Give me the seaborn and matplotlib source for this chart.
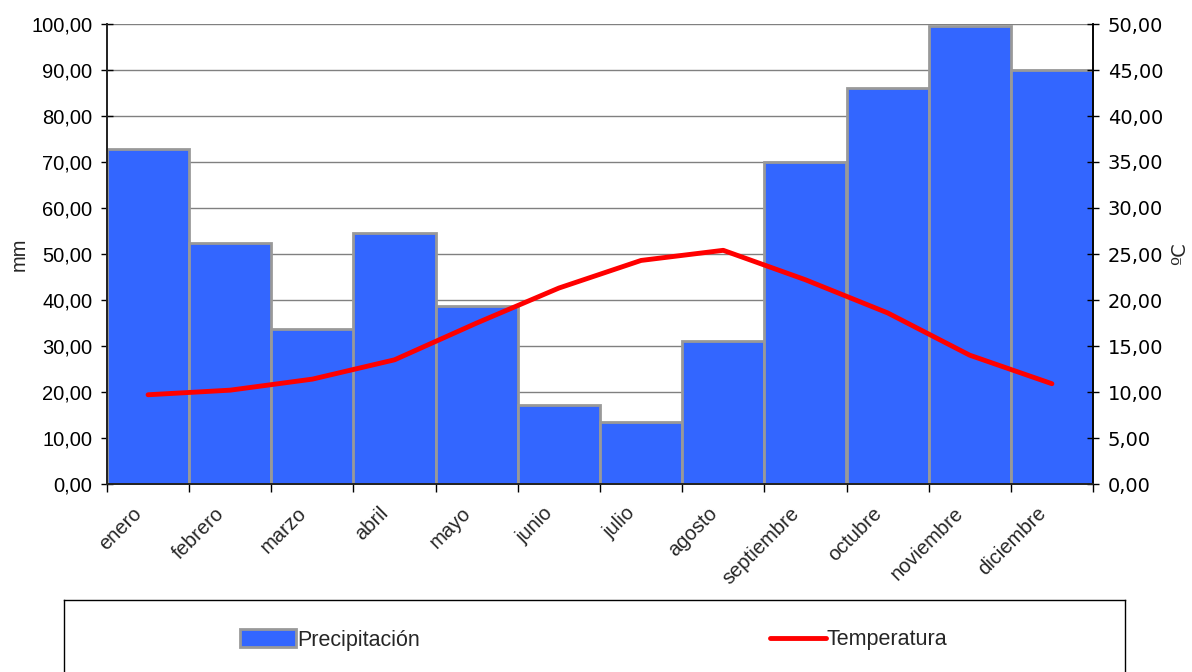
import numpy as np
import pandas as pd
import matplotlib
matplotlib.use("Agg")
import matplotlib.pyplot as plt
import matplotlib.transforms as mtransforms
import seaborn as sns
from matplotlib.ticker import FuncFormatter, MultipleLocator, FixedLocator
from matplotlib.patches import Patch
from matplotlib.lines import Line2D

meses = ["enero", "febrero", "marzo", "abril", "mayo", "junio", "julio",
         "agosto", "septiembre", "octubre", "noviembre", "diciembre"]
precipitacion = [72.8, 52.4, 33.7, 54.6, 38.7, 17.2, 13.5, 31.1, 70.0, 86.1, 99.6, 90.0]
temperatura = [9.7, 10.2, 11.4, 13.5, 17.5, 21.3, 24.3, 25.4, 22.2, 18.6, 14.0, 10.9]

BLUE = "#3366FF"
RED = "#FF0000"
EDGE = "#999999"

sns.set_theme(style="white")
plt.rcParams["font.family"] = ["Liberation Sans", "DejaVu Sans"]

df = pd.DataFrame({"mes": meses, "pos": np.arange(len(meses)),
                   "precipitacion": precipitacion, "temperatura": temperatura})

fmt = FuncFormatter(lambda v, p: f"{v:.2f}".replace(".", ","))

fig = plt.figure(figsize=(11.92, 6.72), dpi=100)
ax = fig.add_axes([107 / 1192, 188 / 672, 986 / 1192, 460 / 672])

sns.barplot(data=df, x="mes", y="precipitacion", color=BLUE, saturation=1,
            width=1.0, edgecolor=EDGE, linewidth=2, ax=ax, zorder=2)
ax.set_xlim(-0.5, len(meses) - 0.5)
ax.set_ylim(0, 100)
ax.yaxis.set_major_locator(MultipleLocator(10))
ax.yaxis.set_major_formatter(fmt)
ax.grid(axis="y", color="#808080", linewidth=1)
ax.set_axisbelow(True)
ax.spines["top"].set_visible(False)
for s in ["left", "bottom"]:
    ax.spines[s].set_color("black")
    ax.spines[s].set_linewidth(1.2)
ax.tick_params(axis="y", direction="inout", length=9, width=1, colors="black",
               labelsize=14.5, pad=6, left=True)
ax.set_xlabel("")
ax.set_ylabel("mm", fontsize=14.5, labelpad=2)
ax.set_xticks(np.arange(len(meses)))
ax.set_xticklabels(meses, rotation=45, ha="right", va="center", rotation_mode="anchor")
ax.tick_params(axis="x", which="major", length=0, pad=19, labelsize=14.5)
shift = mtransforms.ScaledTranslation(-9 / 100, 0, fig.dpi_scale_trans)
for lab in ax.get_xticklabels():
    lab.set_transform(lab.get_transform() + shift)
ax.xaxis.set_minor_locator(FixedLocator(np.arange(len(meses) + 1) - 0.5))
ax.tick_params(axis="x", which="minor", direction="out", length=6, width=1,
               colors="black", bottom=True)

ax2 = ax.twinx()
sns.lineplot(data=df, x="pos", y="temperatura", color=RED, linewidth=3.5, ax=ax2,
             zorder=3)
ax2.set_ylim(0, 50)
ax2.set_xlim(-0.5, len(meses) - 0.5)
ax2.yaxis.set_major_locator(MultipleLocator(5))
ax2.yaxis.set_major_formatter(fmt)
ax2.spines["top"].set_visible(False)
ax2.spines["right"].set_color("black")
ax2.spines["right"].set_linewidth(1.2)
ax2.tick_params(axis="y", direction="inout", length=9, width=1, colors="black",
                labelsize=14, pad=6, right=True)
for lab in ax2.get_yticklabels():
    lab.set_family("DejaVu Sans")
ax2.set_ylabel("ºC", fontsize=14, rotation=90, labelpad=5, family="DejaVu Sans")
ax2.set_xlabel("")
ax2.grid(False)

# legend box below the chart
lax = fig.add_axes([64 / 1192, -8 / 672, 1061 / 1192, 80 / 672])
lax.set_xticks([])
lax.set_yticks([])
for s in lax.spines.values():
    s.set_color("black")
    s.set_linewidth(1)
h_bar = Patch(facecolor=BLUE, edgecolor=EDGE, linewidth=2, label="Precipitación")
h_line = Line2D([], [], color=RED, linewidth=3.5, label="Temperatura")
leg1 = lax.legend(handles=[h_bar], loc="center left", bbox_to_anchor=(0.148, 0.5),
                  frameon=False, fontsize=15.5, handlelength=2.6, handleheight=0.9,
                  handletextpad=0.05)
lax.add_artist(leg1)
lax.legend(handles=[h_line], loc="center left", bbox_to_anchor=(0.647, 0.5),
           frameon=False, fontsize=15.5, handlelength=2.6, handletextpad=0.05)

fig.savefig("out.png", dpi=100)
